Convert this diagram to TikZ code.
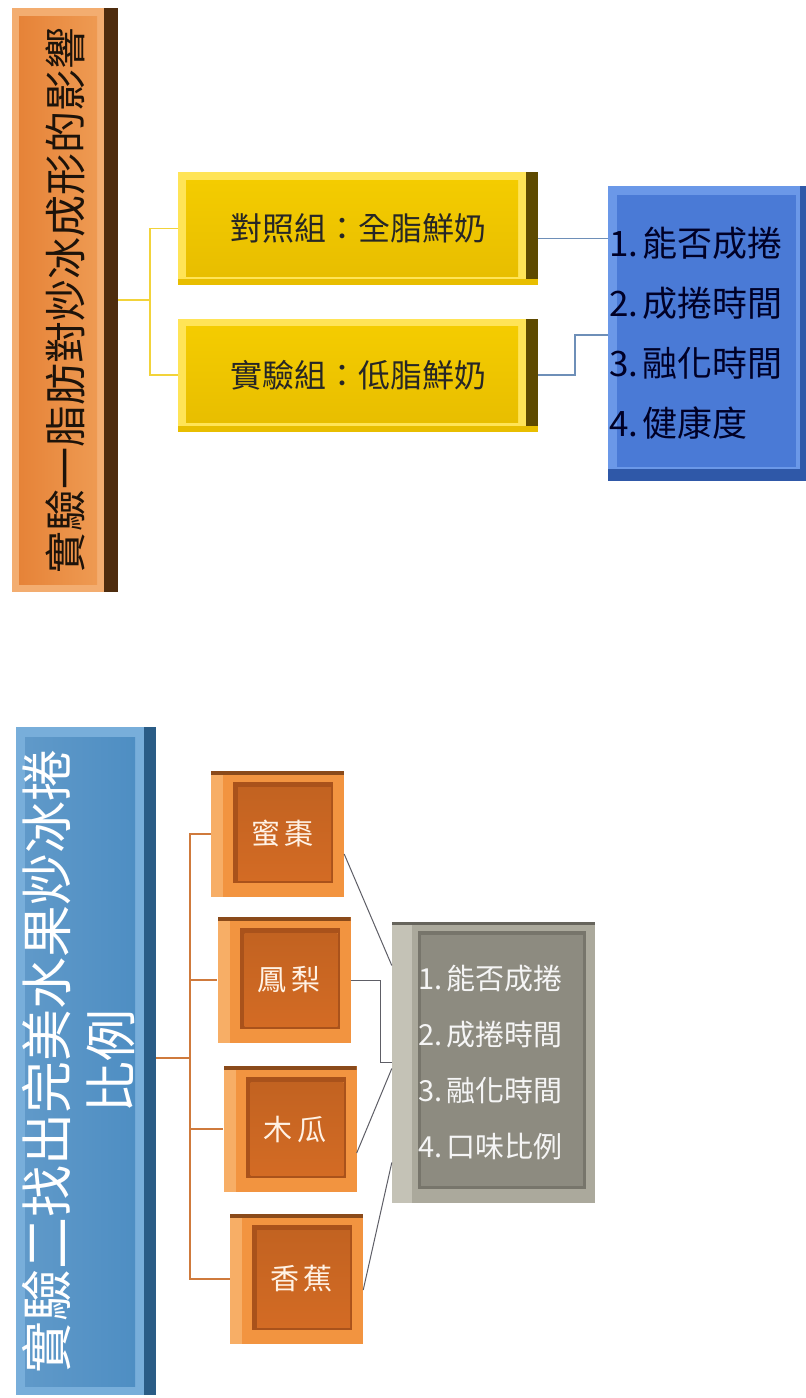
\documentclass[tikz,border=0pt]{standalone}
\usepackage{fontspec}
\usepackage{graphicx}
\newfontfamily\cjk{Noto Sans CJK TC}
\usetikzlibrary{calc}
\definecolor{oOut}{HTML}{F3AD70}
\definecolor{oFaceA}{HTML}{EE9A52}
\definecolor{oFaceB}{HTML}{E68338}
\definecolor{oDark}{HTML}{4E2C0E}
\definecolor{yOut}{HTML}{FFE457}
\definecolor{yFace}{HTML}{F4CC00}
\definecolor{yFaceB}{HTML}{E8BE00}
\definecolor{yDark}{HTML}{5E4A00}
\definecolor{bOut}{HTML}{6B98E8}
\definecolor{bFace}{HTML}{4A7AD6}
\definecolor{bDark}{HTML}{2F58A8}
\definecolor{sOut}{HTML}{78AEDA}
\definecolor{sFace}{HTML}{4E8EC3}
\definecolor{sDark}{HTML}{2A5C86}
\definecolor{fOut}{HTML}{F29440}
\definecolor{fLight}{HTML}{F7AE66}
\definecolor{fDark}{HTML}{8A4A1A}
\definecolor{fShadow}{HTML}{A9521B}
\definecolor{fFace}{HTML}{D36B24}
\definecolor{gOut}{HTML}{ABA99C}
\definecolor{gLight}{HTML}{C4C2B6}
\definecolor{gDark}{HTML}{66645C}
\definecolor{gShadow}{HTML}{77756B}
\definecolor{gFace}{HTML}{8D8B80}
\definecolor{yLine}{HTML}{F2D33A}
\definecolor{bLine}{HTML}{6E8FB8}
\definecolor{oLine}{HTML}{CF7A3C}
\definecolor{gLine}{HTML}{5E5E66}
\newcommand\bvrect[5]{\fill[#1] ([shift={(#2,-#3)}]path picture bounding box.north west) rectangle ([shift={(-#4,#5)}]path picture bounding box.south east);}
\newcommand\bvright[2]{\fill[#1] ([xshift=-#2]path picture bounding box.north east) rectangle (path picture bounding box.south east);}
\newcommand\bvleft[2]{\fill[#1] (path picture bounding box.north west) rectangle ([xshift=#2]path picture bounding box.south west);}
\newcommand\bvtop[2]{\fill[#1] (path picture bounding box.north west) rectangle ([yshift=-#2]path picture bounding box.north east);}
\newcommand\bvbottom[2]{\fill[#1] (path picture bounding box.south west) rectangle ([yshift=#2]path picture bounding box.south east);}
\newcommand\numgap{\hspace{4pt}}
\tikzset{
  box/.style={rectangle, draw=none, inner sep=0pt},
  titleA/.style={box, fill=oOut, path picture={\bvright{oDark}{14pt}\bvrect{left color=oFaceB,right color=oFaceA}{7pt}{8pt}{21pt}{8pt}}},
  ybox/.style={box, fill=yOut, minimum width=360pt, minimum height=113pt,
     path picture={\bvright{yDark}{12pt}\bvbottom{yFaceB}{6pt}\bvrect{top color=yFace,bottom color=yFaceB}{8pt}{8pt}{20pt}{9pt}},
     font=\cjk\fontsize{32}{36}\selectfont, text=black!85},
  blist/.style={box, fill=bOut, minimum width=198pt, minimum height=295pt,
     path picture={\bvbottom{bDark}{12pt}\bvright{bDark}{6pt}\bvrect{bFace}{9pt}{9pt}{10pt}{14pt}},
     font=\cjk\fontsize{35}{60}\selectfont, text={black!85!blue}, align=left, text width=196pt, inner xsep=1pt},
  titleB/.style={box, fill=sOut, path picture={\bvright{sDark}{12pt}\bvrect{left color=sFace!90!white,right color=sFace}{9pt}{10pt}{21pt}{9pt}}},
  fbox/.style={box, fill=fOut, minimum width=133pt, minimum height=126pt,
     path picture={\bvleft{fLight}{12pt}\bvtop{fDark}{4pt}\bvrect{fShadow}{22pt}{11pt}{11pt}{14pt}\bvrect{top color=fFace!92!black,bottom color=fFace}{27pt}{16pt}{13pt}{17pt}},
     font=\cjk\fontsize{29}{32}\selectfont, text={orange!10!white}},
  glist/.style={box, fill=gOut, minimum width=203pt, minimum height=281pt,
     path picture={\bvleft{gLight}{20pt}\bvtop{gDark}{3pt}\bvrect{gShadow}{26pt}{9pt}{9pt}{14pt}\bvrect{gFace}{29pt}{13pt}{12pt}{17pt}},
     font=\cjk\fontsize{29}{56}\selectfont, text={white!92!gray}, align=left, text width=150pt},
  yconn/.style={draw=yLine, line width=1.8pt},
  bconn/.style={draw=bLine, line width=1.2pt},
  oconn/.style={draw=oLine, line width=1.4pt},
  gconn/.style={draw=gLine, line width=1pt},
}
\begin{document}
\begin{tikzpicture}[x=1pt,y=-1pt]
\useasboundingbox (0,0) rectangle (806,1398);
\fill[white] (0,0) rectangle (806,1398);

% ---- experiment 1 ----
\node[titleA, minimum width=106pt, minimum height=584pt] (t1box) at (65,300)
  {\rotatebox{90}{\cjk\fontsize{42}{42}\selectfont\color{black!85!brown}實驗一脂肪對炒冰成形的影響}};
\node[ybox] (y1) at (358,228.5) {對照組：全脂鮮奶};
\node[ybox] (y2) at (358,375) {實驗組：低脂鮮奶};
\node[blist] (bl) at (707,333.5) {1.\numgap 能否成捲\\2.\numgap 成捲時間\\3.\numgap 融化時間\\4.\numgap 健康度};

\coordinate (j1) at (150,300);
\draw[yconn] (t1box.east) -- (j1);
\draw[yconn] (j1) |- (y1.west);
\draw[yconn] (j1) |- (y2.west);
\coordinate (k1) at (575,335);
\draw[bconn] ([yshift=-10pt]y1.east) -- ([yshift=-10pt]y1.east -| bl.west);
\draw[bconn] (y2.east) -| (k1) -- (k1 -| bl.west);

% ---- experiment 2 ----
\node[titleB, minimum width=140pt, minimum height=668pt] (t2box) at (86,1061)
  {\rotatebox{90}{\cjk\fontsize{52}{64}\selectfont\color{white}\begin{tabular}{@{}c@{}}實驗二找出完美水果炒冰捲\\比例\end{tabular}}};
\node[fbox] (f1) at (277.5,834) {\hspace*{10pt}蜜\hspace{5pt}棗};
\node[fbox] (f2) at (284,980) {\hspace*{10pt}鳳\hspace{5pt}梨};
\node[fbox] (f3) at (290,1129) {\hspace*{10pt}木\hspace{5pt}瓜};
\node[fbox, minimum height=130pt] (f4) at (296.5,1279) {\hspace*{10pt}香\hspace{5pt}蕉};
\node[glist] (gr) at (493.5,1062.5) {1.\numgap 能否成捲\\2.\numgap 成捲時間\\3.\numgap 融化時間\\4.\numgap 口味比例};

\coordinate (j2) at (190,1058);
\draw[oconn] ([yshift=3pt]t2box.east) -- (j2);
\draw[oconn] (j2) |- (f1.west);
\draw[oconn] (j2) |- (f2.west);
\draw[oconn] (j2) |- (f3.west);
\draw[oconn] (j2) |- (f4.west);

\coordinate (k2) at (380,1062.5);
\draw[gconn] ([yshift=-20pt]f1.east) -- ([yshift=97pt]gr.west);
\draw[gconn] (f2.east) -| (k2) -- (gr.west);
\draw[gconn] ([yshift=-24pt]f3.east) -- ([yshift=-6pt]gr.west);
\draw[gconn] ([yshift=-11pt]f4.east) -- ([yshift=-100pt]gr.west);
\end{tikzpicture}
\end{document}
